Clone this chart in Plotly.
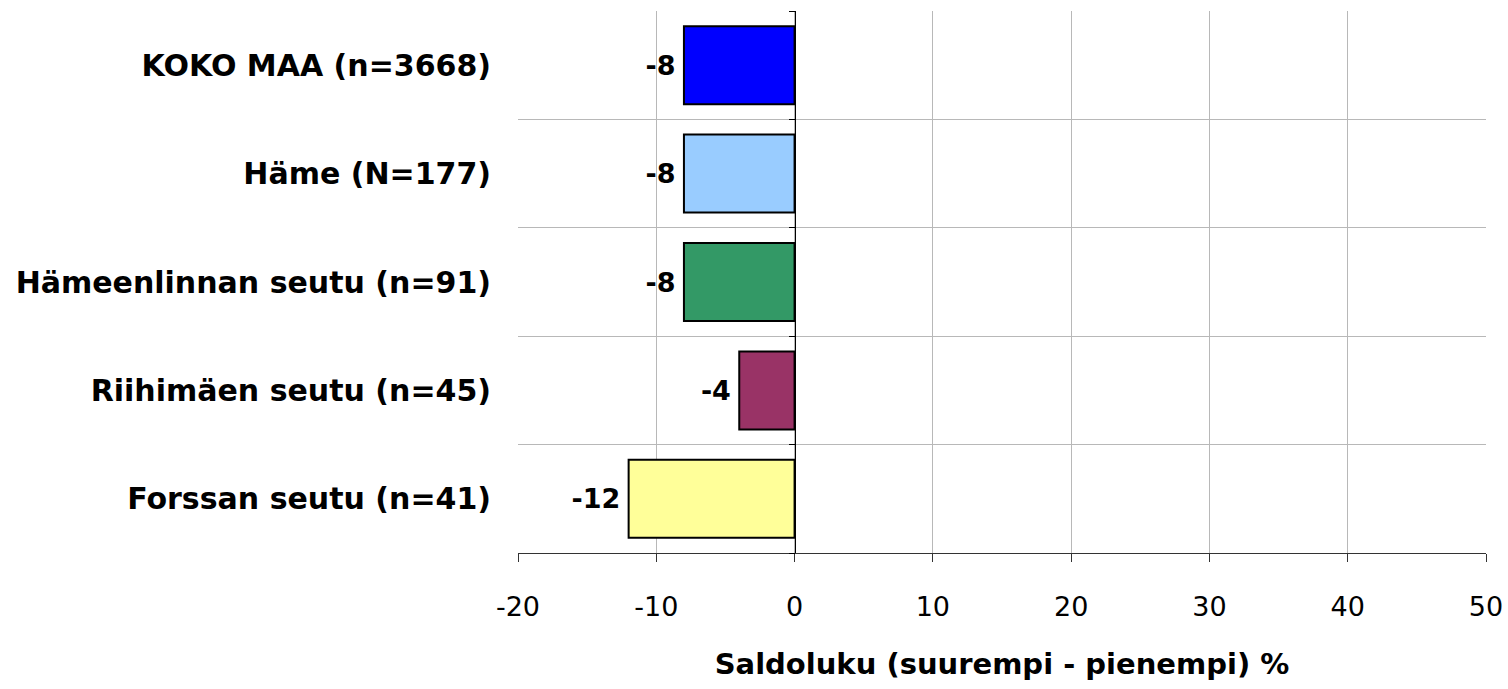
import plotly.graph_objects as go

categories = [
    "KOKO MAA (n=3668)",
    "Häme (N=177)",
    "Hämeenlinnan seutu (n=91)",
    "Riihimäen seutu (n=45)",
    "Forssan seutu (n=41)",
]
values = [-8, -8, -8, -4, -12]
colors = ["#0000FF", "#99CCFF", "#339966", "#993366", "#FFFF99"]

x_ticks = [-20, -10, 0, 10, 20, 30, 40, 50]
x_ticktext = ["-20", "-10", "0", "10", "20", "30", "40", "50"]

x_min, x_max = -20, 50
FONT = "DejaVu Sans, Arial"

fig = go.Figure()

# bars, top category first
fig.add_trace(
    go.Bar(
        y=categories,
        x=values,
        orientation="h",
        marker=dict(color=colors, line=dict(color="black", width=2)),
        width=0.72,
        text=[f"{v}\u2009" for v in values],
        textposition="outside",
        textfont=dict(family=FONT, size=27, color="black", weight="bold"),
        cliponaxis=False,
        showlegend=False,
    )
)

# invisible point so the helper axis at x=0 gets drawn
fig.add_trace(
    go.Scatter(x=[0], y=[0], yaxis="y2", mode="markers", marker=dict(opacity=0),
               showlegend=False, hoverinfo="skip")
)

fig.update_layout(
    width=1508,
    height=689,
    margin=dict(l=518, r=22, t=11, b=136),
    plot_bgcolor="white",
    paper_bgcolor="white",
    font=dict(family=FONT, size=27, color="black"),
    xaxis=dict(
        range=[x_min, x_max],
        tickvals=x_ticks,
        ticktext=x_ticktext,
        automargin=False,
        showgrid=True,
        gridcolor="#B8B8B8",
        gridwidth=1,
        zeroline=False,
        showline=True,
        linecolor="#333333",
        linewidth=1,
        ticks="outside",
        ticklen=8,
        tickcolor="#333333",
        tickfont=dict(size=27),
        ticklabelstandoff=22,
        ticklabeloverflow="allow",
        title=dict(
            text="<b>Saldoluku (suurempi - pienempi) %</b>",
            font=dict(size=29),
            standoff=32,
        ),
    ),
    yaxis=dict(
        categoryorder="array",
        categoryarray=categories[::-1],
        automargin=False,
        showgrid=False,
        zeroline=False,
        showline=False,
        ticks="",
        tickfont=dict(size=30, weight="bold"),
        ticklabelstandoff=26,
    ),
    yaxis2=dict(
        overlaying="y",
        anchor="free",
        position=(0 - x_min) / (x_max - x_min),
        range=[-0.5, 4.5],
        tick0=0.5,
        dtick=1,
        automargin=False,
        showgrid=True,
        gridcolor="#B8B8B8",
        gridwidth=1,
        zeroline=False,
        showline=True,
        linecolor="black",
        linewidth=1,
        ticks="outside",
        ticklen=6,
        tickcolor="black",
        showticklabels=False,
        layer="above traces",
    ),
)

# drop the default body margin so the figure fills the window exactly
fig.write_html(
    "out.html",
    config={"displayModeBar": False},
    post_script="document.body.style.margin = '0';",
)
